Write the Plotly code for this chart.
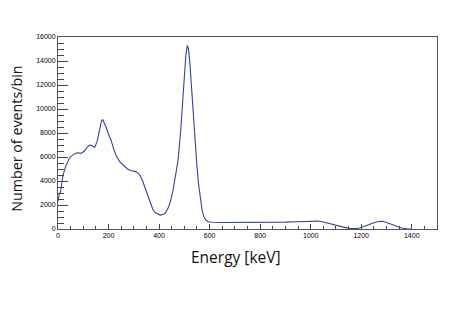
import plotly.graph_objects as go

# Energy spectrum (bin centre in keV) and counts per bin
energy_kev = [0, 5, 10, 20, 30, 45, 60, 75, 90, 105, 115, 125, 135, 145, 155, 165,
              172, 177, 182, 190, 200, 210, 220, 230, 245, 260, 275, 290, 305, 315,
              325, 335, 345, 355, 365, 375, 385, 395, 405, 415, 425, 435, 445, 455,
              465, 475, 485, 492, 500, 506, 512, 517, 522, 528, 535, 542, 549, 556,
              563, 570, 577, 585, 595, 610, 650, 700, 750, 800, 850, 900, 950, 980,
              1010, 1030, 1050, 1070, 1090, 1110, 1130, 1150, 1170, 1190, 1210, 1230,
              1250, 1270, 1285, 1300, 1320, 1340, 1360, 1380, 1400]
counts = [2300, 2900, 3100, 4500, 5200, 5900, 6200, 6350, 6300, 6500, 6800, 7000,
          6950, 6800, 7300, 8500, 9000, 9100, 8900, 8500, 7900, 7400, 6700, 6100,
          5600, 5300, 5000, 4850, 4800, 4700, 4450, 4000, 3400, 2700, 2100, 1650,
          1350, 1220, 1160, 1200, 1350, 1700, 2300, 3200, 4300, 5700, 8000, 10300,
          13000, 14500, 15300, 14900, 13800, 11800, 9500, 7400, 5500, 3800, 2500,
          1600, 1050, 750, 600, 560, 540, 540, 530, 550, 560, 570, 600, 640, 680,
          660, 580, 480, 350, 220, 120, 50, 30, 60, 200, 380, 520, 620, 640, 540,
          380, 200, 80, 20, 0]

x_title = "Energy [keV]"
y_title = "Number of events/bin"

fig = go.Figure(go.Scatter(
    x=energy_kev, y=counts, mode="lines",
    line=dict(color="#34429a", width=1.1),
    hoverinfo="skip",
))

tick_font = dict(family="Liberation Sans, Arial, sans-serif", size=7, color="#000000")
title_family = "Open Sans, Noto Sans, sans-serif"

fig.update_layout(
    width=451, height=332,
    margin=dict(l=58, r=14, t=37, b=103),
    paper_bgcolor="white", plot_bgcolor="white",
    showlegend=False,
    xaxis=dict(
        range=[0, 1500], tickmode="linear", tick0=0, dtick=200, tickformat="d",
        ticks="inside", ticklen=5, tickwidth=1, tickcolor="#444",
        minor=dict(ticks="inside", ticklen=3, dtick=50, tickcolor="#444"),
        showline=True, linecolor="#555", linewidth=1, mirror=True,
        showgrid=False, zeroline=False, tickfont=tick_font,
    ),
    yaxis=dict(
        range=[0, 16000], tickmode="linear", tick0=0, dtick=2000, tickformat="d",
        ticks="inside", ticklen=10, tickwidth=1, tickcolor="#444",
        minor=dict(ticks="inside", ticklen=6, dtick=500, tickcolor="#444"),
        showline=True, linecolor="#555", linewidth=1, mirror=True,
        showgrid=False, zeroline=False, tickfont=tick_font,
    ),
    annotations=[
        dict(text=x_title, xref="paper", yref="paper", x=0.47, y=-0.145,
             xanchor="center", yanchor="middle", showarrow=False,
             font=dict(family=title_family, size=15.5, color="#111111")),
        dict(text=y_title, xref="paper", yref="paper", x=-0.108, y=0.47,
             xanchor="center", yanchor="middle", showarrow=False, textangle=-90,
             font=dict(family=title_family, size=14.3, color="#111111")),
    ],
)

fig.write_html("out.html")
